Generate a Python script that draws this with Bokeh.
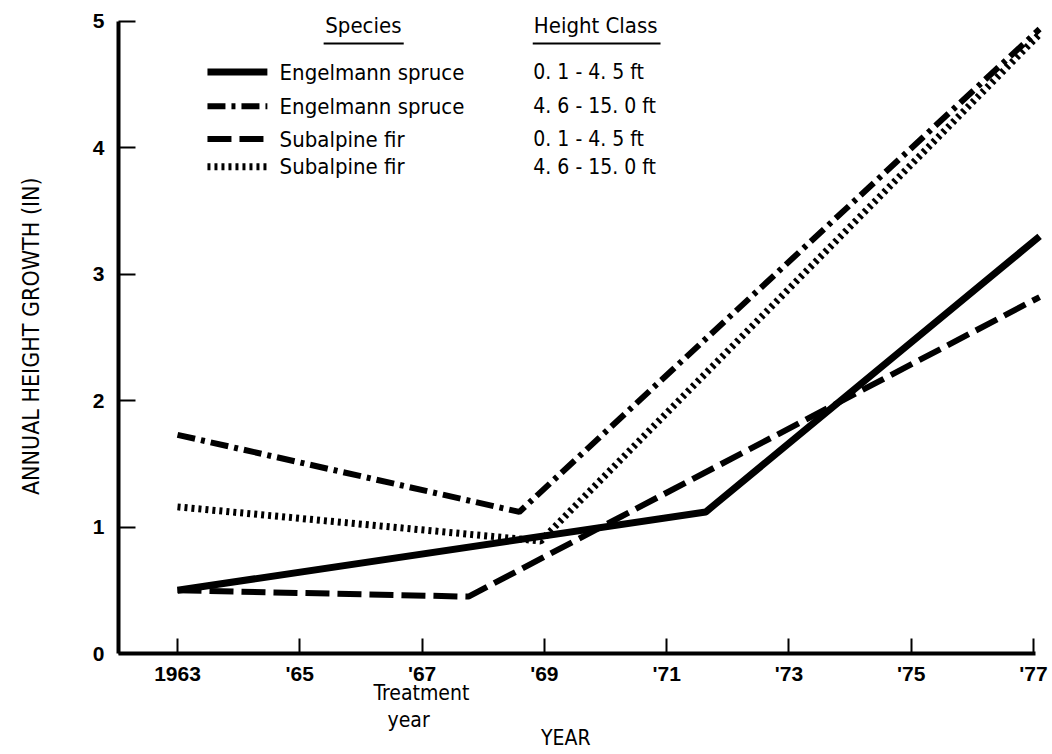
import math
from bokeh.plotting import figure
from bokeh.models import Range1d, FixedTicker, Label
from bokeh.embed import file_html
from bokeh.resources import INLINE

# ---- data ----
years_es_small = [1963, 1971.64, 1977.1]
growth_es_small = [0.50, 1.12, 3.30]

years_es_large = [1963, 1968.59, 1977.1]
growth_es_large = [1.73, 1.12, 4.94]

years_sf_small = [1963, 1967.76, 1977.1]
growth_sf_small = [0.50, 0.45, 2.82]

years_sf_large = [1963, 1968.94, 1977.1]
growth_sf_large = [1.16, 0.89, 4.90]

x_ticks = [1963, 1965, 1967, 1969, 1971, 1973, 1975, 1977]
x_tick_labels = ["1963", "'65", "'67", "'69", "'71", "'73", "'75", "'77"]
y_ticks = [0, 1, 2, 3, 4, 5]

species = ["Engelmann spruce", "Engelmann spruce", "Subalpine fir", "Subalpine fir"]
height_class = ["0. 1 - 4. 5 ft", "4. 6 - 15. 0 ft", "0. 1 - 4. 5 ft", "4. 6 - 15. 0 ft"]

FONT = "DejaVu Sans Condensed"
TICK_FONT = "Liberation Sans"

X_AXIS_START, X_AXIS_END = 1962.035, 1977.03

p = figure(width=1052, height=754,
           x_range=Range1d(1960.105, 1977.311), y_range=Range1d(-0.799, 5.166),
           output_backend="svg", toolbar_location=None,
           min_border_left=0, min_border_right=0,
           min_border_top=0, min_border_bottom=0)
p.outline_line_color = None
p.xgrid.visible = False
p.ygrid.visible = False
p.background_fill_color = "white"
p.border_fill_color = "white"

# y axis
ya = p.yaxis[0]
ya.fixed_location = X_AXIS_START
ya.bounds = (0, 5)
ya.ticker = FixedTicker(ticks=y_ticks)
ya.axis_line_width = 4
ya.axis_line_color = "black"
ya.major_tick_in = 17
ya.major_tick_out = 0
ya.major_tick_line_width = 2
ya.minor_tick_line_color = None
ya.major_label_standoff = 14
ya.major_label_text_font = TICK_FONT
ya.major_label_text_font_style = "bold"
ya.major_label_text_font_size = "21px"
ya.major_label_text_color = "black"

# x axis
xa = p.xaxis[0]
xa.fixed_location = 0
xa.bounds = (X_AXIS_START, X_AXIS_END)
xa.ticker = FixedTicker(ticks=x_ticks)
xa.major_label_overrides = {t: l for t, l in zip(x_ticks, x_tick_labels)}
xa.axis_line_width = 4
xa.axis_line_color = "black"
xa.major_tick_in = 15
xa.major_tick_out = 0
xa.major_tick_line_width = 2
xa.minor_tick_line_color = None
xa.major_label_standoff = 8
xa.major_label_text_font = TICK_FONT
xa.major_label_text_font_style = "bold"
xa.major_label_text_font_size = "21px"
xa.major_label_text_color = "black"

# series
p.line(years_es_small, growth_es_small, line_color="black", line_width=7)
p.line(years_es_large, growth_es_large, line_color="black", line_width=6,
       line_dash="18 6 4 6")
p.line(years_sf_small, growth_sf_small, line_color="black", line_width=6,
       line_dash="24 8")
p.line(years_sf_large, growth_sf_large, line_color="black", line_width=7,
       line_dash="3 4")


def text(x, y, s, align="left", size="21px", angle=0.0):
    p.add_layout(Label(x=x, y=y, text=s, text_font=FONT, text_font_size=size,
                       text_baseline="middle", text_align=align,
                       text_color="black", angle=angle))


# y axis title
text(1960.6, 2.51, "ANNUAL HEIGHT GROWTH (IN)", align="center", size="23px",
     angle=math.pi / 2)

# legend (drawn inside the plot area)
leg_x0, leg_x1 = 1963.49, 1964.47
row_y = [4.60, 4.33, 4.07, 3.85]
styles = [dict(line_width=7), dict(line_width=6, line_dash="18 6 4 6"),
          dict(line_width=6, line_dash="24 8"), dict(line_width=7, line_dash="3 4")]
for yy, st, sp, hc in zip(row_y, styles, species, height_class):
    p.line([leg_x0, leg_x1], [yy, yy], line_color="black", **st)
    text(1964.67, yy, sp, size="22px")
    text(1968.82, yy, hc, size="21px")

text(1966.04, 4.968, "Species", align="center", size="22px")
text(1969.84, 4.968, "Height Class", align="center", size="22px")
p.line([1965.39, 1966.70], [4.826, 4.826], line_color="black", line_width=2)
p.line([1968.81, 1970.90], [4.826, 4.826], line_color="black", line_width=2)

# bottom texts
text(1966.99, -0.309, "Treatment", align="center")
text(1966.78, -0.53, "year", align="center")
text(1969.35, -0.672, "YEAR", align="center")

open("out.html", "w").write(file_html(p, INLINE))
